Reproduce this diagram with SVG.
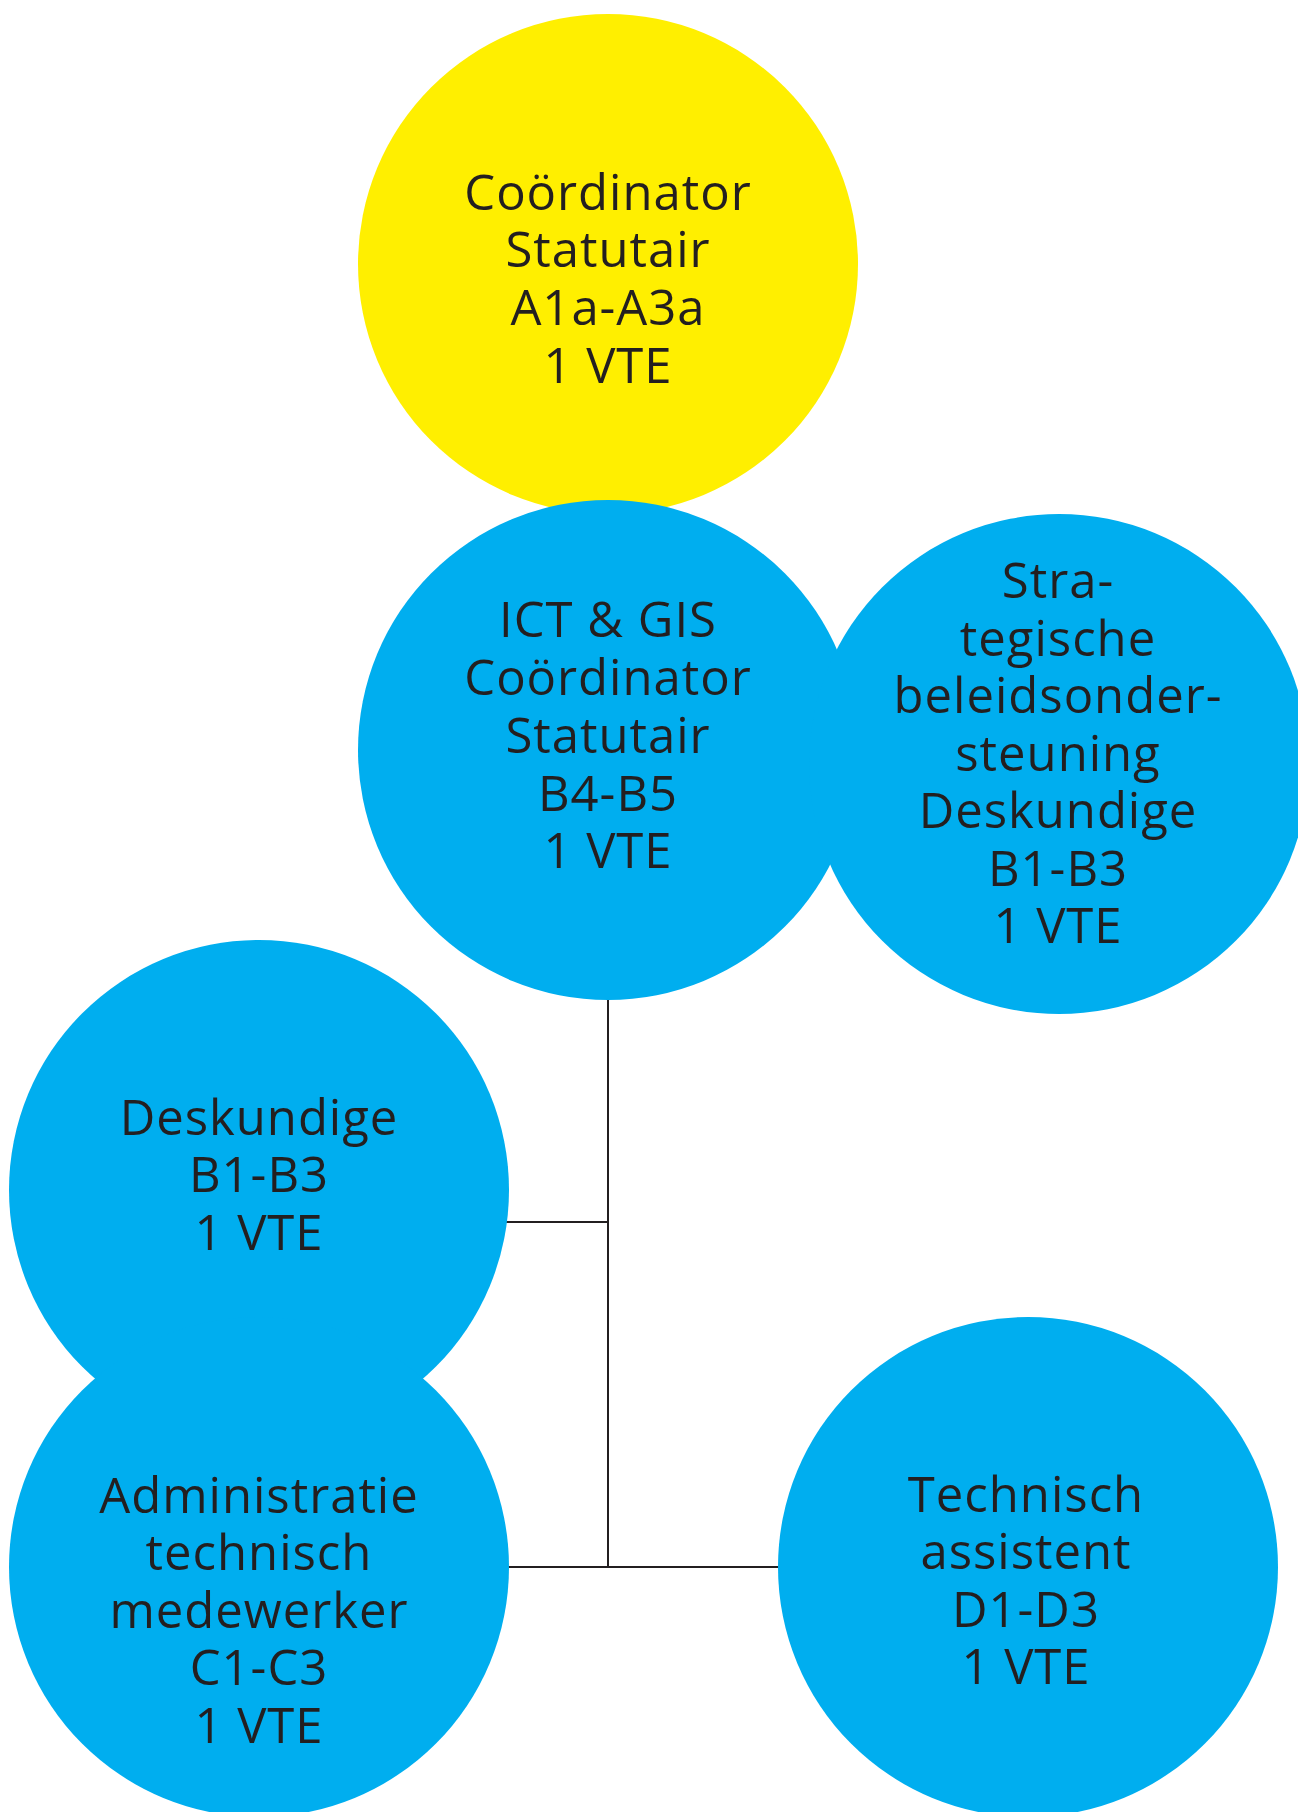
<svg xmlns="http://www.w3.org/2000/svg" width="1298" height="1812" viewBox="0 0 1298 1812">
  <style>
    .blue { fill: #00AEEF; }
    .yellow { fill: #FFEF00; }
    .lbl { font-family: "Open Sans", "Noto Sans", "Liberation Sans", sans-serif; font-size: 49px; letter-spacing: 1px; fill: #231F20; text-anchor: middle; }
    .conn { stroke: #231F20; stroke-width: 2; fill: none; }
  </style>
  <rect width="1298" height="1812" fill="#FFFFFF"/>
  <g id="node-coordinator">
    <circle class="yellow" cx="608" cy="264" r="250"/>
    <text class="lbl" x="608" y="209.5">Coördinator</text>
    <text class="lbl" x="608" y="267">Statutair</text>
    <text class="lbl" x="608" y="325">A1a-A3a</text>
    <text class="lbl" x="608" y="383">1 VTE</text>
  </g>
  <g id="connectors">
    <line class="conn" x1="505" y1="1222" x2="609" y2="1222"/>
    <line class="conn" x1="608" y1="1000" x2="608" y2="1567"/>
    <line class="conn" x1="505" y1="1567" x2="782" y2="1567"/>
  </g>
  <g id="node-ict">
    <circle class="blue" cx="608" cy="750" r="250"/>
    <text class="lbl" x="608" y="637">ICT &amp; GIS</text>
    <text class="lbl" x="608" y="695">Coördinator</text>
    <text class="lbl" x="608" y="753">Statutair</text>
    <text class="lbl" x="608" y="810.5">B4-B5</text>
    <text class="lbl" x="608" y="868">1 VTE</text>
  </g>
  <g id="node-strategisch">
    <circle class="blue" cx="1059" cy="764" r="250"/>
    <text class="lbl" x="1058" y="598">Stra-</text>
    <text class="lbl" x="1058" y="655.5">tegische</text>
    <text class="lbl" x="1058" y="713">beleidsonder-</text>
    <text class="lbl" x="1058" y="770.5">steuning</text>
    <text class="lbl" x="1058" y="828">Deskundige</text>
    <text class="lbl" x="1058" y="885.5">B1-B3</text>
    <text class="lbl" x="1058" y="943">1 VTE</text>
  </g>
  <g id="node-deskundige">
    <circle class="blue" cx="259" cy="1190" r="250"/>
    <text class="lbl" x="259" y="1135">Deskundige</text>
    <text class="lbl" x="259" y="1192">B1-B3</text>
    <text class="lbl" x="259" y="1250">1 VTE</text>
  </g>
  <g id="node-administratie">
    <circle class="blue" cx="259" cy="1567" r="250"/>
    <text class="lbl" x="259" y="1512.5">Administratie</text>
    <text class="lbl" x="259" y="1570">technisch</text>
    <text class="lbl" x="259" y="1627.5">medewerker</text>
    <text class="lbl" x="259" y="1685">C1-C3</text>
    <text class="lbl" x="259" y="1743">1 VTE</text>
  </g>
  <g id="node-technisch">
    <circle class="blue" cx="1028" cy="1567" r="250"/>
    <text class="lbl" x="1026" y="1511.5">Technisch</text>
    <text class="lbl" x="1026" y="1569">assistent</text>
    <text class="lbl" x="1026" y="1626.5">D1-D3</text>
    <text class="lbl" x="1026" y="1684">1 VTE</text>
  </g>
</svg>
